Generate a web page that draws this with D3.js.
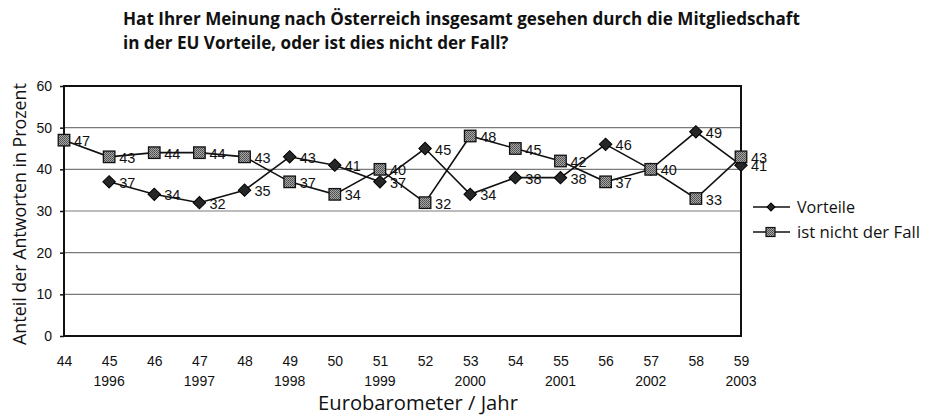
<!DOCTYPE html>
<html>
<head>
<meta charset="utf-8">
<script src="https://cdn.jsdelivr.net/npm/d3@7/dist/d3.min.js"></script>
<style>
  html, body { margin: 0; padding: 0; background: #fff; }
  svg { display: block; }
</style>
</head>
<body>
<svg id="chart" width="926" height="417"></svg>
<script>
// ---- Data ----
const waves = ["44","45","46","47","48","49","50","51","52","53","54","55","56","57","58","59"];
const yearLabels = ["", "1996", "", "1997", "", "1998", "", "1999", "", "2000", "", "2001", "", "2002", "", "2003"];
const vorteile = [null, 37, 34, 32, 35, 43, 41, 37, 45, 34, 38, 38, 46, 40, 49, 41];
const nichtDerFall = [47, 43, 44, 44, 43, 37, 34, 40, 32, 48, 45, 42, 37, 40, 33, 43];
const yTicks = [0, 10, 20, 30, 40, 50, 60];
const seriesNames = ["Vorteile", "ist nicht der Fall"];
const titleLines = [
  "Hat Ihrer Meinung nach Österreich insgesamt gesehen durch die Mitgliedschaft",
  "in der EU Vorteile, oder ist dies nicht der Fall?"
];
const yTitle = "Anteil der Antworten in Prozent";
const xTitle = "Eurobarometer / Jahr";

// ---- Layout ----
const svg = d3.select("#chart");
const plot = { left: 64, right: 741, top: 86, bottom: 336 };

const x = d3.scalePoint().domain(waves).range([plot.left, plot.right]);
const y = d3.scaleLinear().domain([0, 60]).range([plot.bottom, plot.top]);

const defs = svg.append("defs");
const pat = defs.append("pattern").attr("id", "dots")
  .attr("width", 2).attr("height", 2).attr("patternUnits", "userSpaceOnUse");
pat.append("rect").attr("width", 2).attr("height", 2).attr("fill", "#a8a8a8");
pat.append("rect").attr("width", 1).attr("height", 1).attr("fill", "#4a4a4a");
pat.append("rect").attr("x", 1).attr("y", 1).attr("width", 1).attr("height", 1).attr("fill", "#5a5a5a");

function fitText(sel, target) {
  const node = sel.node();
  const fs = parseFloat(sel.attr("font-size"));
  const len = node.getComputedTextLength();
  sel.attr("font-size", (fs * target / len).toFixed(2));
  return fs * target / len;
}

// ---- Title ----
const t1 = svg.append("text").attr("x", 123).attr("y", 25)
  .attr("font-family", "'Open Sans', 'Noto Sans', sans-serif").attr("font-weight", "bold")
  .attr("font-size", 15).attr("fill", "#111").text(titleLines[0]);
const tfs = fitText(t1, 677);
svg.append("text").attr("x", 123).attr("y", 49)
  .attr("font-family", "'Open Sans', 'Noto Sans', sans-serif").attr("font-weight", "bold")
  .attr("font-size", tfs.toFixed(2)).attr("fill", "#111").text(titleLines[1]);

// ---- Gridlines ----
svg.append("g").selectAll("line").data(yTicks.filter(d => d > 0 && d < 60)).join("line")
  .attr("x1", plot.left).attr("x2", plot.right)
  .attr("y1", d => y(d)).attr("y2", d => y(d))
  .attr("stroke", "#7a7a7a").attr("stroke-width", 1.2);

// ---- Y axis ----
const yAxis = svg.append("g").attr("transform", `translate(${plot.left},0)`)
  .call(d3.axisLeft(y).tickValues(yTicks).tickSize(4).tickPadding(8));
yAxis.select(".domain").remove();
yAxis.selectAll(".tick line").attr("stroke", "#111").attr("stroke-width", 1.5);
yAxis.selectAll(".tick text").attr("font-family", "'Liberation Sans', Arial, sans-serif")
  .attr("font-size", 14).attr("fill", "#111");

// ---- X axis labels ----
const xAxis = svg.append("g").attr("transform", `translate(0,${plot.bottom})`)
  .call(d3.axisBottom(x).tickSize(0).tickPadding(20));
xAxis.select(".domain").remove();
xAxis.selectAll(".tick text").attr("font-family", "'Liberation Sans', Arial, sans-serif")
  .attr("font-size", 14).attr("fill", "#111");
svg.append("g").selectAll("text").data(waves).join("text")
  .attr("x", d => x(d)).attr("y", 386)
  .attr("text-anchor", "middle")
  .attr("font-family", "'Liberation Sans', Arial, sans-serif").attr("font-size", 14).attr("fill", "#111")
  .text((d, i) => yearLabels[i]);

// ---- Plot frame ----
svg.append("rect").attr("x", plot.left).attr("y", plot.top)
  .attr("width", plot.right - plot.left).attr("height", plot.bottom - plot.top)
  .attr("fill", "none").attr("stroke", "#111").attr("stroke-width", 2);

// ---- Axis titles ----
const yt = svg.append("text").attr("transform", `translate(19,214) rotate(-90)`)
  .attr("text-anchor", "middle").attr("dominant-baseline", "central")
  .attr("font-family", "'Open Sans', 'Noto Sans', sans-serif").attr("font-size", 16).attr("fill", "#111")
  .text(yTitle);
fitText(yt, 262);
const xt = svg.append("text").attr("x", 418).attr("y", 410).attr("text-anchor", "middle")
  .attr("font-family", "'Open Sans', 'Noto Sans', sans-serif").attr("font-size", 16).attr("fill", "#111")
  .text(xTitle);
fitText(xt, 200);

// ---- Series ----
const line = d3.line().defined(d => d.v != null).x(d => x(d.w)).y(d => y(d.v));
const sV = waves.map((w, i) => ({ w, v: vorteile[i] }));
const sF = waves.map((w, i) => ({ w, v: nichtDerFall[i] }));

function drawDiamond(g, cx, cy, size) {
  g.append("path").attr("d", d3.symbol().type(d3.symbolSquare).size(size)())
    .attr("transform", `translate(${cx},${cy}) rotate(45)`)
    .attr("fill", "#262626").attr("stroke", "#000").attr("stroke-width", 1);
}
function drawSquare(g, cx, cy, s) {
  g.append("rect").attr("x", cx - s / 2).attr("y", cy - s / 2).attr("width", s).attr("height", s)
    .attr("fill", "url(#dots)").attr("stroke", "#111").attr("stroke-width", 1.3);
}

const gLines = svg.append("g");
gLines.append("path").datum(sV).attr("d", line).attr("fill", "none").attr("stroke", "#111").attr("stroke-width", 1.6);
gLines.append("path").datum(sF).attr("d", line).attr("fill", "none").attr("stroke", "#111").attr("stroke-width", 1.6);

const gMarkV = svg.append("g");
sV.filter(d => d.v != null).forEach(d => drawDiamond(gMarkV, x(d.w), y(d.v), 78));
const gMarkF = svg.append("g");
sF.forEach(d => drawSquare(gMarkF, x(d.w), y(d.v), 11.5));

// ---- Data labels ----
const labelFont = "'Liberation Sans', Arial, sans-serif";
// a Vorteile label that sits exactly on the other series' label is shown once
const vLabels = sV.filter((d, i) => d.v != null && d.v !== nichtDerFall[i]);
svg.append("g").selectAll("text").data(vLabels).join("text")
  .attr("x", d => x(d.w) + 10).attr("y", d => y(d.v) + 6)
  .attr("font-family", labelFont).attr("font-size", 14.5).attr("fill", "#111")
  .text(d => d.v);
svg.append("g").selectAll("text").data(sF).join("text")
  .attr("x", d => x(d.w) + 10).attr("y", d => y(d.v) + 6)
  .attr("font-family", labelFont).attr("font-size", 14.5).attr("fill", "#111")
  .text(d => d.v);

// ---- Legend ----
const lg = svg.append("g");
[207, 232].forEach((ly, i) => {
  lg.append("line").attr("x1", 753).attr("x2", 790).attr("y1", ly).attr("y2", ly)
    .attr("stroke", "#111").attr("stroke-width", 1.6);
  if (i === 0) {
    lg.append("path").attr("d", d3.symbol().type(d3.symbolSquare).size(32)())
      .attr("transform", `translate(771,${ly}) rotate(45)`).attr("fill", "#262626").attr("stroke", "#000");
  } else {
    lg.append("rect").attr("x", 766).attr("y", ly - 4.5).attr("width", 9).attr("height", 9)
      .attr("fill", "url(#dots)").attr("stroke", "#111").attr("stroke-width", 1.2);
  }
  const tx = lg.append("text").attr("x", 797).attr("y", ly + 6)
    .attr("font-family", "'Open Sans', 'Noto Sans', sans-serif").attr("font-size", 16).attr("fill", "#111")
    .text(seriesNames[i]);
  fitText(tx, i === 0 ? 58 : 123);
});
</script>
</body>
</html>
